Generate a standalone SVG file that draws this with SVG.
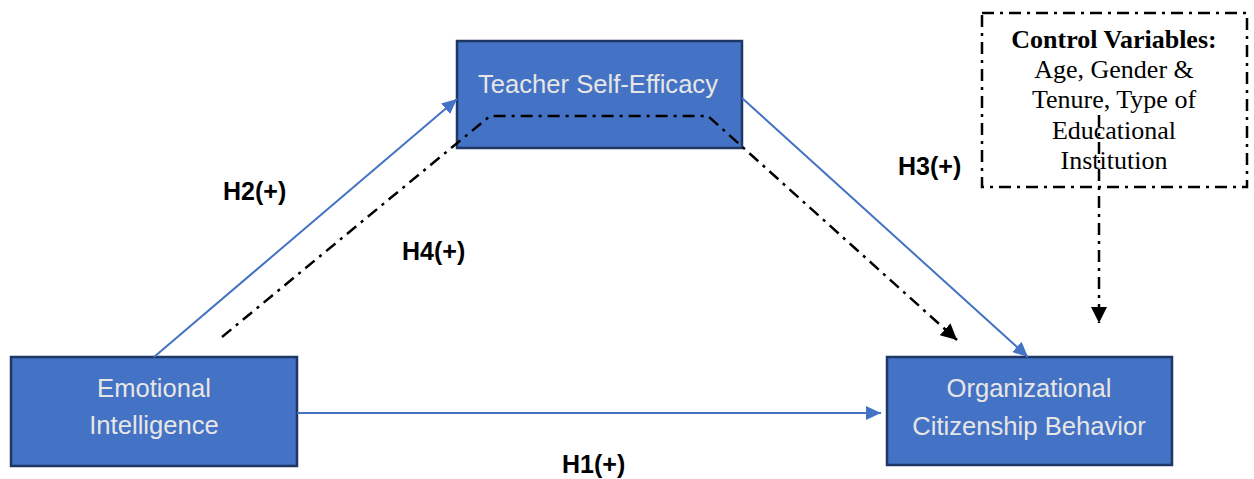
<svg xmlns="http://www.w3.org/2000/svg" width="1254" height="479" viewBox="0 0 1254 479">
  <style>
    .box { fill: #4472C4; stroke: #1E3765; stroke-width: 2.5; }
    .ntext { font-family: "Liberation Sans", Arial, sans-serif; font-size: 25.6px; fill: #E7E6E6; text-anchor: middle; }
    .lbl { font-family: "Liberation Sans", Arial, sans-serif; font-size: 25px; font-weight: bold; fill: #000; }
    .blue { stroke: #4472C4; stroke-width: 2; fill: none; }
    .dd { stroke: #000; stroke-width: 2.5; fill: none; stroke-dasharray: 12 6 3 6; }
    .ctext { font-family: "Liberation Serif", "Times New Roman", serif; font-size: 26px; fill: #000; text-anchor: middle; }
  </style>
  <defs>
    <marker id="ab" markerUnits="userSpaceOnUse" markerWidth="17" markerHeight="15" refX="15" refY="7" orient="auto">
      <path d="M0,0 L15,7 L0,14 Z" fill="#4472C4"/>
    </marker>
    <marker id="ak" markerUnits="userSpaceOnUse" markerWidth="18" markerHeight="18" refX="16" refY="8" orient="auto">
      <path d="M0,0 L16,8 L0,16 Z" fill="#000"/>
    </marker>
  </defs>

  <g id="control-variables">
    <rect x="982" y="13" width="265" height="174" fill="#fff" class="dd"/>
    <text class="ctext" x="1114" y="48" font-weight="bold">Control Variables:</text>
    <text class="ctext" x="1114" y="78">Age, Gender &amp;</text>
    <text class="ctext" x="1114" y="108">Tenure, Type of</text>
    <text class="ctext" x="1114" y="139">Educational</text>
    <text class="ctext" x="1114" y="169">Institution</text>
  </g>

  <g id="teacher-self-efficacy">
    <rect class="box" x="457" y="41" width="285" height="107"/>
    <text class="ntext" x="598" y="93">Teacher Self-Efficacy</text>
  </g>

  <g id="emotional-intelligence">
    <rect class="box" x="11" y="357" width="286" height="109"/>
    <text class="ntext" x="154" y="397">Emotional</text>
    <text class="ntext" x="154" y="434">Intelligence</text>
  </g>

  <g id="organizational-citizenship-behavior">
    <rect class="box" x="887" y="357" width="285" height="108"/>
    <text class="ntext" x="1029" y="397">Organizational</text>
    <text class="ntext" x="1029" y="435">Citizenship Behavior</text>
  </g>

  <g id="connectors">
    <line class="blue" x1="297" y1="413" x2="881" y2="413" marker-end="url(#ab)"/>
    <line class="blue" x1="154" y1="357" x2="457" y2="99" marker-end="url(#ab)"/>
    <line class="blue" x1="742" y1="98" x2="1028" y2="357" marker-end="url(#ab)"/>
    <path class="dd" d="M222,337 L490,116 L708,116 L957,340" marker-end="url(#ak)"/>
    <line class="dd" x1="1099" y1="115" x2="1099" y2="323" marker-end="url(#ak)"/>
  </g>

  <g id="labels">
    <text class="lbl" x="223" y="200">H2(+)</text>
    <text class="lbl" x="402" y="260">H4(+)</text>
    <text class="lbl" x="898" y="175">H3(+)</text>
    <text class="lbl" x="562" y="473">H1(+)</text>
  </g>
</svg>
